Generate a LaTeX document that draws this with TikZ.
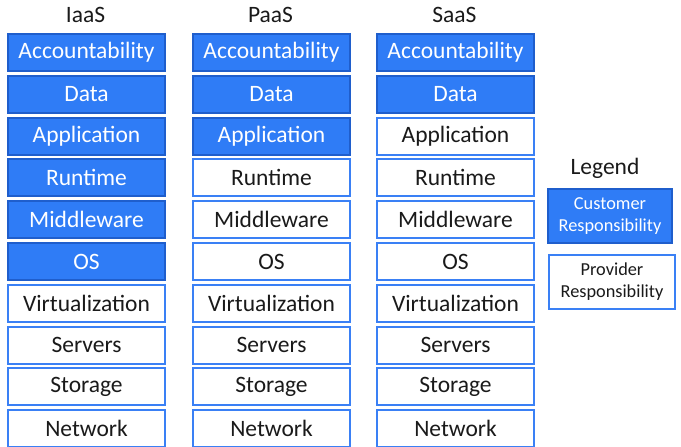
\documentclass[tikz,border=0pt]{standalone}
\usepackage{fontspec}
\setmainfont{Carlito}
\definecolor{custfill}{HTML}{2F7CF6}
\definecolor{custline}{HTML}{1F5ECC}
\definecolor{provline}{HTML}{3A80F5}
\definecolor{ink}{HTML}{1A1A1A}
\begin{document}
\begin{tikzpicture}[x=1pt,y=-1pt,
  layer/.style={draw, line width=2pt, minimum width=157pt, minimum height=37pt,
    inner sep=0pt, anchor=north west, font=\fontsize{23.5}{27}\selectfont},
  cust/.style={layer, fill=custfill, draw=custline, text=white},
  prov/.style={layer, fill=white, draw=provline, text=ink},
  heading/.style={text=ink, font=\fontsize{23.5}{27}\selectfont},
  keybox/.style={draw, line width=2pt, minimum height=54pt, inner sep=0pt,
    align=center, font=\fontsize{18.3}{22}\selectfont}]
\useasboundingbox (0,0) rectangle (681,447);
% service models: column prefix / left edge / customer-managed layers / heading
\foreach \col/\cx/\ncust/\title in {i/7/6/IaaS, p/192/3/PaaS, s/376/2/SaaS}{
  \node[heading] (\col t) at (\cx+78.5,15) {\title};
  \foreach \lab [count=\k] in {Accountability,Data,Application,Runtime,Middleware,OS,Virtualization,Servers,Storage,Network}{
    \ifnum\k>\ncust\def\sty{prov}\else\def\sty{cust}\fi
    \node[\sty] (\col\k) at (\cx,{33+41.8*(\k-1)}) {\lab};
  }
}
% legend
\node[heading] (legend) at (605,168) {Legend};
\node[keybox, fill=custfill, draw=custline, text=white, minimum width=124pt]
  (custkey) at (610,216) {Customer\\Responsibility};
\node[keybox, fill=white, draw=provline, text=ink, minimum width=126pt]
  (provkey) at (612,281.5) {Provider\\Responsibility};
\end{tikzpicture}
\end{document}
